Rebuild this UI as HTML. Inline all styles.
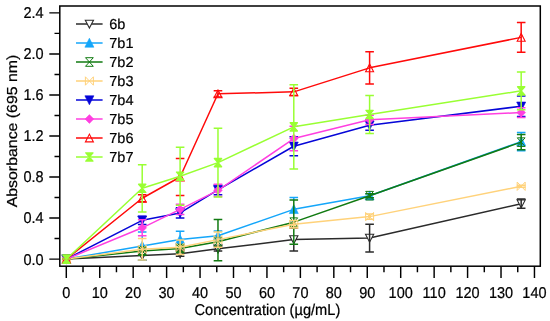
<!DOCTYPE html>
<html><head><meta charset="utf-8"><title>Chart</title>
<style>
html,body{margin:0;padding:0;background:#fff;}
body{width:550px;height:321px;position:relative;overflow:hidden;font-family:"Liberation Sans",sans-serif;}
</style></head><body>
<svg width="550" height="321" viewBox="0 0 550 321" style="position:absolute;left:0;top:0">
<rect x="0" y="0" width="550" height="321" fill="#fff"/>
<defs><clipPath id="c"><rect x="59.8" y="6.0" width="480.5" height="260.2"/></clipPath></defs>
<g clip-path="url(#c)">
<polyline points="66.40,259.10 142.21,255.41 180.10,253.66 217.98,248.84 293.79,239.61 369.60,238.07 521.18,203.70" fill="none" stroke="#2b2b2b" stroke-width="1.5" stroke-linejoin="round"/>
<polygon points="62.30,255.30 70.50,255.30 66.40,263.20" fill="#fff" stroke="#2b2b2b" stroke-width="1.1"/>
<polygon points="138.11,251.61 146.31,251.61 142.21,259.51" fill="#fff" stroke="#2b2b2b" stroke-width="1.1"/>
<polygon points="176.00,249.86 184.20,249.86 180.10,257.76" fill="#fff" stroke="#2b2b2b" stroke-width="1.1"/>
<polygon points="213.88,245.04 222.08,245.04 217.98,252.94" fill="#fff" stroke="#2b2b2b" stroke-width="1.1"/>
<polygon points="289.69,235.81 297.89,235.81 293.79,243.71" fill="#fff" stroke="#2b2b2b" stroke-width="1.1"/>
<polygon points="365.50,234.27 373.70,234.27 369.60,242.17" fill="#fff" stroke="#2b2b2b" stroke-width="1.1"/>
<polygon points="517.08,199.90 525.28,199.90 521.18,207.80" fill="#fff" stroke="#2b2b2b" stroke-width="1.1"/>
<path d="M62.10 259.10H70.70M62.10 259.10H70.70" fill="none" stroke="#2b2b2b" stroke-width="1.5"/>
<path d="M142.21 259.92V260.13M137.91 250.69H146.51M137.91 260.13H146.51" fill="none" stroke="#2b2b2b" stroke-width="1.5"/>
<path d="M180.10 254.48V256.33M175.80 250.99H184.40M175.80 256.33H184.40" fill="none" stroke="#2b2b2b" stroke-width="1.5"/>
<path d="M213.68 246.58H222.28M213.68 251.10H222.28" fill="none" stroke="#2b2b2b" stroke-width="1.5"/>
<path d="M293.79 244.22V250.89M289.49 228.32H298.09M289.49 250.89H298.09" fill="none" stroke="#2b2b2b" stroke-width="1.5"/>
<path d="M369.60 224.22V251.92M365.30 224.22H373.90M365.30 251.92H373.90" fill="none" stroke="#2b2b2b" stroke-width="1.5"/>
<path d="M521.18 199.08V208.31M516.88 199.08H525.48M516.88 208.31H525.48" fill="none" stroke="#2b2b2b" stroke-width="1.5"/>
<polyline points="66.40,259.10 142.21,245.92 180.10,239.61 217.98,235.71 293.79,209.34 369.60,195.69 521.18,141.62" fill="none" stroke="#14a6fa" stroke-width="1.5" stroke-linejoin="round"/>
<polygon points="61.90,263.30 70.90,263.30 66.40,254.30" fill="#14a6fa" stroke="#14a6fa" stroke-width="0.6"/>
<polygon points="137.71,250.12 146.71,250.12 142.21,241.12" fill="#14a6fa" stroke="#14a6fa" stroke-width="0.6"/>
<polygon points="175.60,243.81 184.60,243.81 180.10,234.81" fill="#14a6fa" stroke="#14a6fa" stroke-width="0.6"/>
<polygon points="213.48,239.91 222.48,239.91 217.98,230.91" fill="#14a6fa" stroke="#14a6fa" stroke-width="0.6"/>
<polygon points="289.29,213.54 298.29,213.54 293.79,204.54" fill="#14a6fa" stroke="#14a6fa" stroke-width="0.6"/>
<polygon points="365.10,199.89 374.10,199.89 369.60,190.89" fill="#14a6fa" stroke="#14a6fa" stroke-width="0.6"/>
<polygon points="516.68,145.82 525.68,145.82 521.18,136.82" fill="#14a6fa" stroke="#14a6fa" stroke-width="0.6"/>
<path d="M62.10 259.10H70.70M62.10 259.10H70.70" fill="none" stroke="#14a6fa" stroke-width="1.5"/>
<path d="M142.21 235.81V238.58M137.91 231.91H146.51M137.91 259.92H146.51" fill="none" stroke="#14a6fa" stroke-width="1.5"/>
<path d="M180.10 231.19V240.12M175.80 231.19H184.40M175.80 248.02H184.40" fill="none" stroke="#14a6fa" stroke-width="1.5"/>
<path d="M213.68 231.09H222.28M213.68 240.32H222.28" fill="none" stroke="#14a6fa" stroke-width="1.5"/>
<path d="M293.79 197.54V200.11M289.49 197.54H298.09M289.49 221.14H298.09" fill="none" stroke="#14a6fa" stroke-width="1.5"/>
<path d="M365.30 193.64H373.90M365.30 197.75H373.90" fill="none" stroke="#14a6fa" stroke-width="1.5"/>
<path d="M521.18 132.59V134.44M521.18 149.83V150.65M516.88 132.59H525.48M516.88 150.65H525.48" fill="none" stroke="#14a6fa" stroke-width="1.5"/>
<polyline points="66.40,259.10 142.21,251.10 180.10,248.53 217.98,241.66 293.79,222.16 369.60,195.69 521.18,142.14" fill="none" stroke="#117a11" stroke-width="1.5" stroke-linejoin="round"/>
<polygon points="62.50,254.80 70.30,254.80 62.50,263.40 70.30,263.40" fill="none" stroke="#117a11" stroke-width="1.0" stroke-linejoin="round"/>
<polygon points="138.31,246.80 146.11,246.80 138.31,255.40 146.11,255.40" fill="none" stroke="#117a11" stroke-width="1.0" stroke-linejoin="round"/>
<polygon points="176.20,244.23 184.00,244.23 176.20,252.83 184.00,252.83" fill="none" stroke="#117a11" stroke-width="1.0" stroke-linejoin="round"/>
<polygon points="214.08,237.36 221.88,237.36 214.08,245.96 221.88,245.96" fill="none" stroke="#117a11" stroke-width="1.0" stroke-linejoin="round"/>
<polygon points="289.89,217.86 297.69,217.86 289.89,226.46 297.69,226.46" fill="none" stroke="#117a11" stroke-width="1.0" stroke-linejoin="round"/>
<polygon points="365.70,191.39 373.50,191.39 365.70,199.99 373.50,199.99" fill="none" stroke="#117a11" stroke-width="1.0" stroke-linejoin="round"/>
<polygon points="517.28,137.84 525.08,137.84 517.28,146.44 525.08,146.44" fill="none" stroke="#117a11" stroke-width="1.0" stroke-linejoin="round"/>
<path d="M62.10 259.10H70.70M62.10 259.10H70.70" fill="none" stroke="#117a11" stroke-width="1.5"/>
<path d="M137.91 247.51H146.51M137.91 254.69H146.51" fill="none" stroke="#117a11" stroke-width="1.5"/>
<path d="M175.80 244.94H184.40M175.80 252.12H184.40" fill="none" stroke="#117a11" stroke-width="1.5"/>
<path d="M217.98 219.39V231.91M217.98 247.30V260.74M213.68 219.39H222.28M213.68 260.74H222.28" fill="none" stroke="#117a11" stroke-width="1.5"/>
<path d="M293.79 200.11V220.42M293.79 228.01V244.22M289.49 200.11H298.09M289.49 244.22H298.09" fill="none" stroke="#117a11" stroke-width="1.5"/>
<path d="M369.60 193.64V197.75M365.30 193.64H373.90M365.30 197.75H373.90" fill="none" stroke="#117a11" stroke-width="1.5"/>
<path d="M521.18 134.44V149.83M516.88 134.44H525.48M516.88 149.83H525.48" fill="none" stroke="#117a11" stroke-width="1.5"/>
<polyline points="66.40,259.10 142.21,249.25 180.10,247.30 217.98,239.61 293.79,224.22 369.60,216.62 521.18,186.25" fill="none" stroke="#ffd27a" stroke-width="1.5" stroke-linejoin="round"/>
<polygon points="62.40,254.90 62.40,263.30 70.40,254.90 70.40,263.30" fill="none" stroke="#ffd27a" stroke-width="1.0" stroke-linejoin="round"/>
<polygon points="138.21,245.05 138.21,253.45 146.21,245.05 146.21,253.45" fill="none" stroke="#ffd27a" stroke-width="1.0" stroke-linejoin="round"/>
<polygon points="176.10,243.10 176.10,251.50 184.10,243.10 184.10,251.50" fill="none" stroke="#ffd27a" stroke-width="1.0" stroke-linejoin="round"/>
<polygon points="213.98,235.41 213.98,243.81 221.98,235.41 221.98,243.81" fill="none" stroke="#ffd27a" stroke-width="1.0" stroke-linejoin="round"/>
<polygon points="289.79,220.02 289.79,228.42 297.79,220.02 297.79,228.42" fill="none" stroke="#ffd27a" stroke-width="1.0" stroke-linejoin="round"/>
<polygon points="365.60,212.42 365.60,220.82 373.60,212.42 373.60,220.82" fill="none" stroke="#ffd27a" stroke-width="1.0" stroke-linejoin="round"/>
<polygon points="517.18,182.05 517.18,190.45 525.18,182.05 525.18,190.45" fill="none" stroke="#ffd27a" stroke-width="1.0" stroke-linejoin="round"/>
<path d="M62.10 259.10H70.70M62.10 259.10H70.70" fill="none" stroke="#ffd27a" stroke-width="1.5"/>
<path d="M142.21 238.58V259.92M137.91 238.58H146.51M137.91 259.92H146.51" fill="none" stroke="#ffd27a" stroke-width="1.5"/>
<path d="M180.10 240.12V254.48M175.80 240.12H184.40M175.80 254.48H184.40" fill="none" stroke="#ffd27a" stroke-width="1.5"/>
<path d="M217.98 231.91V247.30M213.68 231.91H222.28M213.68 247.30H222.28" fill="none" stroke="#ffd27a" stroke-width="1.5"/>
<path d="M293.79 220.42V228.01M289.49 220.42H298.09M289.49 228.01H298.09" fill="none" stroke="#ffd27a" stroke-width="1.5"/>
<path d="M369.60 214.06V219.19M365.30 214.06H373.90M365.30 219.19H373.90" fill="none" stroke="#ffd27a" stroke-width="1.5"/>
<path d="M521.18 185.23V187.28M516.88 185.23H525.48M516.88 187.28H525.48" fill="none" stroke="#ffd27a" stroke-width="1.5"/>
<polyline points="66.40,259.10 142.21,220.32 180.10,212.93 217.98,189.85 293.79,146.24 369.60,125.21 521.18,106.23" fill="none" stroke="#0606d8" stroke-width="1.5" stroke-linejoin="round"/>
<polygon points="61.90,254.90 70.90,254.90 66.40,263.90" fill="#0606d8" stroke="#0606d8" stroke-width="0.6"/>
<polygon points="137.71,216.12 146.71,216.12 142.21,225.12" fill="#0606d8" stroke="#0606d8" stroke-width="0.6"/>
<polygon points="175.60,208.73 184.60,208.73 180.10,217.73" fill="#0606d8" stroke="#0606d8" stroke-width="0.6"/>
<polygon points="213.48,185.65 222.48,185.65 217.98,194.65" fill="#0606d8" stroke="#0606d8" stroke-width="0.6"/>
<polygon points="289.29,142.04 298.29,142.04 293.79,151.04" fill="#0606d8" stroke="#0606d8" stroke-width="0.6"/>
<polygon points="365.10,121.01 374.10,121.01 369.60,130.01" fill="#0606d8" stroke="#0606d8" stroke-width="0.6"/>
<polygon points="516.68,102.03 525.68,102.03 521.18,111.03" fill="#0606d8" stroke="#0606d8" stroke-width="0.6"/>
<path d="M62.10 259.10H70.70M62.10 259.10H70.70" fill="none" stroke="#0606d8" stroke-width="1.5"/>
<path d="M142.21 216.21V219.80M137.91 216.21H146.51M137.91 224.42H146.51" fill="none" stroke="#0606d8" stroke-width="1.5"/>
<path d="M180.10 214.47V218.06M175.80 207.80H184.40M175.80 218.06H184.40" fill="none" stroke="#0606d8" stroke-width="1.5"/>
<path d="M213.68 185.02H222.28M213.68 194.67H222.28" fill="none" stroke="#0606d8" stroke-width="1.5"/>
<path d="M289.49 136.70H298.09M289.49 155.78H298.09" fill="none" stroke="#0606d8" stroke-width="1.5"/>
<path d="M365.30 120.08H373.90M365.30 130.34H373.90" fill="none" stroke="#0606d8" stroke-width="1.5"/>
<path d="M516.88 95.97H525.48M516.88 116.49H525.48" fill="none" stroke="#0606d8" stroke-width="1.5"/>
<polyline points="66.40,259.10 142.21,227.81 180.10,209.34 217.98,190.36 293.79,138.55 369.60,119.77 521.18,112.59" fill="none" stroke="#ff3fe0" stroke-width="1.5" stroke-linejoin="round"/>
<polygon points="62.00,259.10 66.40,254.70 70.80,259.10 66.40,263.50" fill="#ff3fe0" stroke="#ff3fe0" stroke-width="0.5"/>
<polygon points="137.81,227.81 142.21,223.41 146.61,227.81 142.21,232.21" fill="#ff3fe0" stroke="#ff3fe0" stroke-width="0.5"/>
<polygon points="175.70,209.34 180.10,204.94 184.50,209.34 180.10,213.74" fill="#ff3fe0" stroke="#ff3fe0" stroke-width="0.5"/>
<polygon points="213.58,190.36 217.98,185.96 222.38,190.36 217.98,194.76" fill="#ff3fe0" stroke="#ff3fe0" stroke-width="0.5"/>
<polygon points="289.39,138.55 293.79,134.15 298.19,138.55 293.79,142.95" fill="#ff3fe0" stroke="#ff3fe0" stroke-width="0.5"/>
<polygon points="365.20,119.77 369.60,115.37 374.00,119.77 369.60,124.17" fill="#ff3fe0" stroke="#ff3fe0" stroke-width="0.5"/>
<polygon points="516.78,112.59 521.18,108.19 525.58,112.59 521.18,116.99" fill="#ff3fe0" stroke="#ff3fe0" stroke-width="0.5"/>
<path d="M62.10 259.10H70.70M62.10 259.10H70.70" fill="none" stroke="#ff3fe0" stroke-width="1.5"/>
<path d="M142.21 219.80V235.81M137.91 219.80H146.51M137.91 235.81H146.51" fill="none" stroke="#ff3fe0" stroke-width="1.5"/>
<path d="M180.10 205.24V214.47M175.80 204.21H184.40M175.80 214.47H184.40" fill="none" stroke="#ff3fe0" stroke-width="1.5"/>
<path d="M213.68 184.20H222.28M213.68 196.51H222.28" fill="none" stroke="#ff3fe0" stroke-width="1.5"/>
<path d="M289.49 126.23H298.09M289.49 150.86H298.09" fill="none" stroke="#ff3fe0" stroke-width="1.5"/>
<path d="M365.30 115.15H373.90M365.30 124.39H373.90" fill="none" stroke="#ff3fe0" stroke-width="1.5"/>
<path d="M521.18 109.71V117.51M516.88 107.66H525.48M516.88 117.51H525.48" fill="none" stroke="#ff3fe0" stroke-width="1.5"/>
<polyline points="66.40,259.10 142.21,198.26 180.10,177.02 217.98,93.81 293.79,91.86 369.60,67.85 521.18,37.38" fill="none" stroke="#ff0a0a" stroke-width="1.5" stroke-linejoin="round"/>
<polygon points="62.40,263.00 70.40,263.00 66.40,255.20" fill="none" stroke="#ff0a0a" stroke-width="1.1"/>
<polygon points="138.21,202.16 146.21,202.16 142.21,194.36" fill="none" stroke="#ff0a0a" stroke-width="1.1"/>
<polygon points="176.10,180.92 184.10,180.92 180.10,173.12" fill="none" stroke="#ff0a0a" stroke-width="1.1"/>
<polygon points="213.98,97.71 221.98,97.71 217.98,89.91" fill="none" stroke="#ff0a0a" stroke-width="1.1"/>
<polygon points="289.79,95.76 297.79,95.76 293.79,87.96" fill="none" stroke="#ff0a0a" stroke-width="1.1"/>
<polygon points="365.60,71.75 373.60,71.75 369.60,63.95" fill="none" stroke="#ff0a0a" stroke-width="1.1"/>
<polygon points="517.18,41.28 525.18,41.28 521.18,33.48" fill="none" stroke="#ff0a0a" stroke-width="1.1"/>
<path d="M62.10 259.10H70.70M62.10 259.10H70.70" fill="none" stroke="#ff0a0a" stroke-width="1.5"/>
<path d="M137.91 194.67H146.51M137.91 201.85H146.51" fill="none" stroke="#ff0a0a" stroke-width="1.5"/>
<path d="M175.80 158.55H184.40M175.80 195.49H184.40" fill="none" stroke="#ff0a0a" stroke-width="1.5"/>
<path d="M217.98 90.73V96.89M213.68 90.73H222.28M213.68 96.89H222.28" fill="none" stroke="#ff0a0a" stroke-width="1.5"/>
<path d="M289.49 88.27H298.09M289.49 95.45H298.09" fill="none" stroke="#ff0a0a" stroke-width="1.5"/>
<path d="M369.60 51.75V83.96M365.30 51.75H373.90M365.30 83.96H373.90" fill="none" stroke="#ff0a0a" stroke-width="1.5"/>
<path d="M521.18 22.50V52.26M516.88 22.50H525.48M516.88 52.26H525.48" fill="none" stroke="#ff0a0a" stroke-width="1.5"/>
<polyline points="66.40,259.10 142.21,188.31 180.10,176.20 217.98,162.66 293.79,126.85 369.60,114.43 521.18,90.84" fill="none" stroke="#99ff33" stroke-width="1.5" stroke-linejoin="round"/>
<polygon points="62.80,255.00 70.00,255.00 62.80,263.20 70.00,263.20" fill="#99ff33" stroke="#99ff33" stroke-width="1.4" stroke-linejoin="round"/>
<polygon points="138.61,184.21 145.81,184.21 138.61,192.41 145.81,192.41" fill="#99ff33" stroke="#99ff33" stroke-width="1.4" stroke-linejoin="round"/>
<polygon points="176.50,172.10 183.70,172.10 176.50,180.30 183.70,180.30" fill="#99ff33" stroke="#99ff33" stroke-width="1.4" stroke-linejoin="round"/>
<polygon points="214.38,158.56 221.58,158.56 214.38,166.76 221.58,166.76" fill="#99ff33" stroke="#99ff33" stroke-width="1.4" stroke-linejoin="round"/>
<polygon points="290.19,122.75 297.39,122.75 290.19,130.95 297.39,130.95" fill="#99ff33" stroke="#99ff33" stroke-width="1.4" stroke-linejoin="round"/>
<polygon points="366.00,110.33 373.20,110.33 366.00,118.53 373.20,118.53" fill="#99ff33" stroke="#99ff33" stroke-width="1.4" stroke-linejoin="round"/>
<polygon points="517.58,86.74 524.78,86.74 517.58,94.94 524.78,94.94" fill="#99ff33" stroke="#99ff33" stroke-width="1.4" stroke-linejoin="round"/>
<path d="M62.10 259.10H70.70M62.10 259.10H70.70" fill="none" stroke="#99ff33" stroke-width="1.5"/>
<path d="M142.21 164.71V211.90M137.91 164.71H146.51M137.91 211.90H146.51" fill="none" stroke="#99ff33" stroke-width="1.5"/>
<path d="M180.10 147.16V205.24M175.80 147.16H184.40M175.80 205.24H184.40" fill="none" stroke="#99ff33" stroke-width="1.5"/>
<path d="M217.98 128.29V197.03M213.68 128.29H222.28M213.68 197.03H222.28" fill="none" stroke="#99ff33" stroke-width="1.5"/>
<path d="M293.79 84.78V168.91M289.49 84.78H298.09M289.49 168.91H298.09" fill="none" stroke="#99ff33" stroke-width="1.5"/>
<path d="M369.60 95.45V133.42M365.30 95.45H373.90M365.30 133.42H373.90" fill="none" stroke="#99ff33" stroke-width="1.5"/>
<path d="M521.18 71.96V109.71M516.88 71.96H525.48M516.88 109.71H525.48" fill="none" stroke="#99ff33" stroke-width="1.5"/>
</g>
<rect x="59.8" y="6.0" width="480.5" height="260.2" fill="none" stroke="#000" stroke-width="1.5"/>
<path d="M66.30 266.20V277.90M83.02 266.20V272.20M99.74 266.20V277.90M116.46 266.20V272.20M133.18 266.20V277.90M149.90 266.20V272.20M166.62 266.20V277.90M183.34 266.20V272.20M200.06 266.20V277.90M216.78 266.20V272.20M233.50 266.20V277.90M250.22 266.20V272.20M266.94 266.20V277.90M283.66 266.20V272.20M300.38 266.20V277.90M317.10 266.20V272.20M333.82 266.20V277.90M350.54 266.20V272.20M367.26 266.20V277.90M383.98 266.20V272.20M400.70 266.20V277.90M417.42 266.20V272.20M434.14 266.20V277.90M450.86 266.20V272.20M467.58 266.20V277.90M484.30 266.20V272.20M501.02 266.20V277.90M517.74 266.20V272.20M534.46 266.20V277.90M59.80 259.10H49.30M59.80 238.58H54.50M59.80 218.06H49.30M59.80 197.54H54.50M59.80 177.02H49.30M59.80 156.50H54.50M59.80 135.98H49.30M59.80 115.46H54.50M59.80 94.94H49.30M59.80 74.42H54.50M59.80 53.90H49.30M59.80 33.38H54.50M59.80 12.86H49.30" fill="none" stroke="#000" stroke-width="1.45"/>
<g font-family="Liberation Sans, sans-serif" font-size="14.5" fill="#000" stroke="#000" stroke-width="0.22" text-rendering="geometricPrecision" style="filter:grayscale(1)">
<text transform="translate(66.30,297.8) scale(1,1.08)" text-anchor="middle">0</text>
<text transform="translate(99.74,297.8) scale(1,1.08)" text-anchor="middle">10</text>
<text transform="translate(133.18,297.8) scale(1,1.08)" text-anchor="middle">20</text>
<text transform="translate(166.62,297.8) scale(1,1.08)" text-anchor="middle">30</text>
<text transform="translate(200.06,297.8) scale(1,1.08)" text-anchor="middle">40</text>
<text transform="translate(233.50,297.8) scale(1,1.08)" text-anchor="middle">50</text>
<text transform="translate(266.94,297.8) scale(1,1.08)" text-anchor="middle">60</text>
<text transform="translate(300.38,297.8) scale(1,1.08)" text-anchor="middle">70</text>
<text transform="translate(333.82,297.8) scale(1,1.08)" text-anchor="middle">80</text>
<text transform="translate(367.26,297.8) scale(1,1.08)" text-anchor="middle">90</text>
<text transform="translate(400.70,297.8) scale(1,1.08)" text-anchor="middle">100</text>
<text transform="translate(434.14,297.8) scale(1,1.08)" text-anchor="middle">110</text>
<text transform="translate(467.58,297.8) scale(1,1.08)" text-anchor="middle">120</text>
<text transform="translate(501.02,297.8) scale(1,1.08)" text-anchor="middle">130</text>
<text transform="translate(534.46,297.8) scale(1,1.08)" text-anchor="middle">140</text>
<text transform="translate(43.6,264.50) scale(1,1.08)" text-anchor="end">0.0</text>
<text transform="translate(43.6,223.46) scale(1,1.08)" text-anchor="end">0.4</text>
<text transform="translate(43.6,182.42) scale(1,1.08)" text-anchor="end">0.8</text>
<text transform="translate(43.6,141.38) scale(1,1.08)" text-anchor="end">1.2</text>
<text transform="translate(43.6,100.34) scale(1,1.08)" text-anchor="end">1.6</text>
<text transform="translate(43.6,59.30) scale(1,1.08)" text-anchor="end">2.0</text>
<text transform="translate(43.6,18.26) scale(1,1.08)" text-anchor="end">2.4</text>
<text transform="translate(267.4,314.5) scale(1.008,1.08)" text-anchor="middle">Concentration (µg/mL)</text>
<text transform="translate(17.2,131) rotate(-90) scale(1.095,1)" text-anchor="middle">Absorbance (695 nm)</text>
</g>
<path d="M76 24.0H102.6" stroke="#2b2b2b" stroke-width="1.5" fill="none"/>
<polygon points="85.30,20.20 93.50,20.20 89.40,28.10" fill="#fff" stroke="#2b2b2b" stroke-width="1.1"/>
<path d="M76 43.0H102.6" stroke="#14a6fa" stroke-width="1.5" fill="none"/>
<polygon points="84.90,47.20 93.90,47.20 89.40,38.20" fill="#14a6fa" stroke="#14a6fa" stroke-width="0.6"/>
<path d="M76 62.0H102.6" stroke="#117a11" stroke-width="1.5" fill="none"/>
<polygon points="85.50,57.70 93.30,57.70 85.50,66.30 93.30,66.30" fill="none" stroke="#117a11" stroke-width="1.0" stroke-linejoin="round"/>
<path d="M76 81.0H102.6" stroke="#ffd27a" stroke-width="1.5" fill="none"/>
<polygon points="85.40,76.80 85.40,85.20 93.40,76.80 93.40,85.20" fill="none" stroke="#ffd27a" stroke-width="1.0" stroke-linejoin="round"/>
<path d="M76 100.0H102.6" stroke="#0606d8" stroke-width="1.5" fill="none"/>
<polygon points="84.90,95.80 93.90,95.80 89.40,104.80" fill="#0606d8" stroke="#0606d8" stroke-width="0.6"/>
<path d="M76 119.0H102.6" stroke="#ff3fe0" stroke-width="1.5" fill="none"/>
<polygon points="85.00,119.00 89.40,114.60 93.80,119.00 89.40,123.40" fill="#ff3fe0" stroke="#ff3fe0" stroke-width="0.5"/>
<path d="M76 138.0H102.6" stroke="#ff0a0a" stroke-width="1.5" fill="none"/>
<polygon points="85.40,141.90 93.40,141.90 89.40,134.10" fill="none" stroke="#ff0a0a" stroke-width="1.1"/>
<path d="M76 157.0H102.6" stroke="#99ff33" stroke-width="1.5" fill="none"/>
<polygon points="85.80,152.90 93.00,152.90 85.80,161.10 93.00,161.10" fill="#99ff33" stroke="#99ff33" stroke-width="1.4" stroke-linejoin="round"/>
<g font-family="Liberation Sans, sans-serif" font-size="14.5" fill="#000" stroke="#000" stroke-width="0.22" text-rendering="geometricPrecision" style="filter:grayscale(1)">
<text x="109.3" y="28.6">6b</text>
<text x="109.3" y="47.6">7b1</text>
<text x="109.3" y="66.6">7b2</text>
<text x="109.3" y="85.6">7b3</text>
<text x="109.3" y="104.6">7b4</text>
<text x="109.3" y="123.6">7b5</text>
<text x="109.3" y="142.6">7b6</text>
<text x="109.3" y="161.6">7b7</text>
</g>
</svg>
</body></html>
